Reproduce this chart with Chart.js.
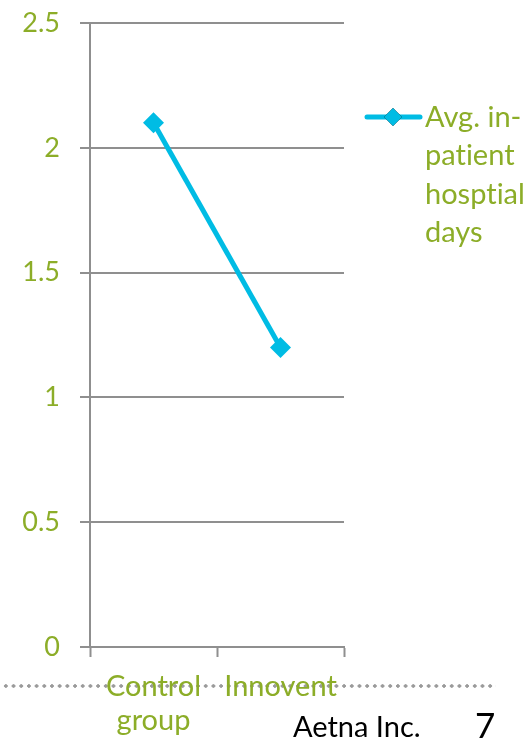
<!DOCTYPE html>
<html lang="en">
<head>
    <meta charset="UTF-8">
    <title>Avg. in-patient hospital days</title>
    <style>
        body {
            margin: 0;
            background-color: white;
            font-family: Lato, "Open Sans", sans-serif;
            font-variant-ligatures: none;
        }
        .wrap {
            position: relative;
            width: 530px;
            height: 742px;
            overflow: hidden;
        }
        .dots {
            position: absolute;
            left: 2px;
            top: 683px;
            width: 494px;
            height: 6px;
            background-image: radial-gradient(circle, #9a9a9a 1.5px, transparent 2px);
            background-size: 7.7px 6px;
        }
        canvas {
            position: absolute;
            left: 0;
            top: 0;
        }
        .legend {
            position: absolute;
            left: 425px;
            top: 97px;
            width: 105px;
            font-size: 29px;
            line-height: 38.3px;
            color: #8cad28;
        }
        .footer {
            position: absolute;
            color: black;
            line-height: 1.2;
        }
    </style>
</head>
<body>
    <div class="wrap">
        <div class="dots"></div>
        <canvas id="lineChart" width="530" height="742"></canvas>
        <div class="legend" id="legend"></div>
        <div class="footer" style="left: 293px; top: 709px; font-size: 29px;">Aetna Inc.</div>
        <div class="footer" style="left: 475px; top: 703px; font-size: 35px;">7</div>
    </div>

    <script src="https://cdn.jsdelivr.net/npm/chart.js"></script>
    <script>
        // chart data
        const categories = ['Control group', 'Innovent'];
        const avgInpatientDays = [2.1, 1.2];
        const seriesName = 'Avg. in-patient hosptial days';
        const yMin = 0, yMax = 2.5, yStep = 0.5;

        const green = '#8cad28';
        const cyan = '#00bce4';
        const gridGray = '#8f8f8f';

        document.getElementById('legend').textContent = seriesName;

        // draws the legend marker (line + diamond) next to the html legend text
        const legendMarker = {
            id: 'legendMarker',
            afterDraw(chart) {
                const c = chart.ctx;
                c.save();
                c.strokeStyle = cyan;
                c.lineWidth = 5;
                c.lineCap = 'round';
                c.beginPath();
                c.moveTo(367, 117);
                c.lineTo(420, 117);
                c.stroke();
                Chart.helpers.drawPoint(c, {pointStyle: 'rectRot', radius: 9, borderWidth: 0}, 393, 117);
                c.fillStyle = cyan;
                c.fill();
                c.restore();
            }
        };

        const ctx = document.getElementById('lineChart').getContext('2d');
        const lineChart = new Chart(ctx, {
            type: 'line',
            data: {
                labels: categories,
                datasets: [{
                    label: seriesName,
                    data: avgInpatientDays,
                    borderColor: cyan,
                    backgroundColor: cyan,
                    borderWidth: 5,
                    pointStyle: 'rectRot',
                    pointRadius: 10.5,
                    pointBorderWidth: 0,
                    fill: false,
                    tension: 0
                }]
            },
            options: {
                responsive: false,
                animation: false,
                layout: {
                    padding: {left: 0, right: 186, top: 23, bottom: 0}
                },
                plugins: {
                    legend: {display: false},
                    tooltip: {enabled: false}
                },
                scales: {
                    x: {
                        offset: true,
                        afterFit(scale) { scale.height = 95; },
                        grid: {
                            offset: true,
                            drawOnChartArea: false,
                            tickLength: 10,
                            tickWidth: 2,
                            tickColor: gridGray
                        },
                        border: {color: gridGray, width: 2},
                        ticks: {
                            color: green,
                            padding: 13,
                            maxRotation: 0,
                            autoSkip: false,
                            font: {family: 'Lato', size: 29, lineHeight: 1.172},
                            callback(value) {
                                const l = this.getLabelForValue(value);
                                return l.includes(' ') ? l.split(' ') : l;
                            }
                        }
                    },
                    y: {
                        min: yMin,
                        max: yMax,
                        afterFit(scale) {
                            scale.width = 90;
                            scale.paddingTop = 0;
                            scale.paddingBottom = 0;
                        },
                        grid: {
                            color: gridGray,
                            lineWidth: 2,
                            tickLength: 10
                        },
                        border: {color: gridGray, width: 2},
                        ticks: {
                            stepSize: yStep,
                            color: green,
                            padding: 20,
                            font: {family: 'Lato', size: 27},
                            callback: (value) => String(value)
                        }
                    }
                }
            },
            plugins: [legendMarker]
        });
    </script>
</body>
</html>
